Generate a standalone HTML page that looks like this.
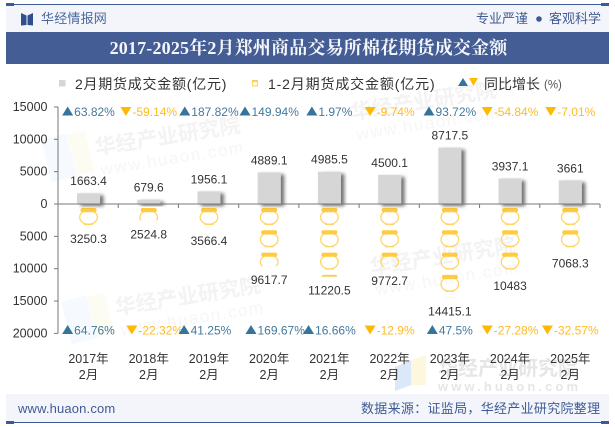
<!DOCTYPE html>
<html lang="zh">
<head>
<meta charset="utf-8">
<title>2017-2025年2月郑州商品交易所棉花期货成交金额</title>
<style>
html,body{margin:0;padding:0;background:#fff;}
#stage{position:relative;width:615px;height:427px;overflow:hidden;}
svg{position:absolute;left:0;top:0;}
.cjk{font-family:"Liberation Sans","Noto Sans CJK SC",sans-serif;}
</style>
</head>
<body>
<div id="stage">
<svg id="chart" width="615" height="427" viewBox="0 0 615 427" class="cjk">
<defs>
<filter id="barShadow" x="-40%" y="-30%" width="200%" height="180%">
<feDropShadow dx="3.5" dy="2" stdDeviation="1.8" flood-color="#000" flood-opacity="0.55"/>
</filter>
</defs>

<g>
<rect x="46" y="136" width="26" height="44" fill="#f6f9fd" transform="rotate(-14 59 158)"/>
<rect x="72" y="132" width="18" height="42" fill="#fdfcf3" transform="rotate(-14 81 153)"/>
<g transform="rotate(-9 170 135)" fill="#f3f3f3">
<text x="94" y="143" font-size="21" font-weight="700">华经产业研究院</text>
<text x="96" y="164" font-size="17" letter-spacing="1.6" fill="#f6f6f6">www.huaon.com</text>
</g>
<g transform="rotate(-9 425 100)" fill="#f3f3f3">
<text x="350" y="108" font-size="21" font-weight="700">华经产业研究院</text>
<text x="352" y="129" font-size="17" letter-spacing="1.6" fill="#f6f6f6">www.huaon.com</text>
</g>
<rect x="66" y="298" width="26" height="44" fill="#f6f9fd" transform="rotate(-14 79 320)"/>
<rect x="92" y="294" width="18" height="42" fill="#fdfcf3" transform="rotate(-14 101 315)"/>
<g transform="rotate(-9 190 295)" fill="#f3f3f3">
<text x="114" y="303" font-size="21" font-weight="700">华经产业研究院</text>
<text x="116" y="324" font-size="17" letter-spacing="1.6" fill="#f6f6f6">www.huaon.com</text>
</g>
<g transform="rotate(-9 445 255)" fill="#f3f3f3">
<text x="369" y="263" font-size="21" font-weight="700">华经产业研究院</text>
<text x="371" y="284" font-size="17" letter-spacing="1.6" fill="#f6f6f6">www.huaon.com</text>
</g>
<polygon points="395,367 411,360 411,385 395,391" fill="#dbe8f9"/>
<polygon points="411,360 426,355 426,385 411,385" fill="#fdf8dd"/>
<text x="438" y="375" font-size="20" font-weight="700" fill="#e6e6e6">华经产业研究院</text>
<text x="438" y="391" font-size="13" font-weight="700" letter-spacing="3.1" fill="#e6e6e6">www.huaon.com</text>
</g>

<g>
<rect x="6" y="5" width="603" height="27" fill="#f3f5fa"/>
<rect x="6" y="4" width="603" height="1" fill="#3c5a96"/>
<rect x="6" y="3" width="8" height="3" fill="#3c5a96"/>
<rect x="601" y="3" width="8" height="3" fill="#3c5a96"/>
<path d="M21 13 L26.5 15.5 L26.5 25 L21 25.5 Z M33 13 L27.5 15.5 L27.5 25 L33 25.5 Z" fill="#2f4f8f"/>
<text x="41" y="23" font-size="13" letter-spacing="0.2" fill="#4a679f">华经情报网</text>
<text x="476" y="23" font-size="13" fill="#3f5b94">专业严谨</text>
<circle cx="539" cy="19" r="2.8" fill="#3c5a96"/>
<text x="549" y="23" font-size="13" fill="#3f5b94">客观科学</text>
<rect x="6" y="32" width="603" height="32" fill="#445d94"/>
<text x="308.500" y="54" text-anchor="middle" font-size="18" font-weight="700" letter-spacing="0.18" fill="#f4f6fb" style="font-family:'Liberation Serif','Noto Serif CJK SC',serif">2017-2025年2月郑州商品交易所棉花期货成交金额</text>
</g>

<g>
<g>
<rect x="59" y="80" width="6.500" height="6.500" fill="#d6d6d6"/>
<text x="75" y="89" font-size="14" letter-spacing="0.75" fill="#333">2月期货成交金额(亿元)</text>
</g>
<g>
<rect x="252.500" y="81" width="5" height="5" rx="1" fill="none" stroke="#ffd566" stroke-width="1.2"/>
<rect x="252" y="80" width="6" height="2" fill="#ffcf55"/>
<text x="268" y="89" font-size="14" letter-spacing="0.85" fill="#333">1-2月期货成交金额(亿元)</text>
</g>
<g>
<polygon points="463,78 468,86 458,86" fill="#35759b"/>
<polygon points="469,78 478,78 473.500,86" fill="#ffb900"/>
<text x="484" y="89" font-size="14" fill="#333">同比增长</text>
<text x="544" y="88.500" font-size="11.500" fill="#555">(%)</text>
</g>
</g>

<g id="marks"></g>

<g>
<rect x="6" y="394" width="603" height="28" fill="#f3f5fa"/>
<rect x="6" y="422" width="603" height="1" fill="#3c5a96"/>
<rect x="6" y="421" width="8" height="3" fill="#3c5a96"/>
<rect x="601" y="421" width="8" height="3" fill="#3c5a96"/>
<text x="18" y="413" font-size="13" letter-spacing="0.15" fill="#3f5b94">www.huaon.com</text>
<text x="361" y="413" font-size="13" letter-spacing="0.3" fill="#3f5b94">数据来源：证监局，华经产业研究院整理</text>
</g>
</svg>
</div>

<script>
const categories = ['2017年', '2018年', '2019年', '2020年', '2021年', '2022年', '2023年', '2024年', '2025年'];
const monthlyValues = [1663.4, 679.6, 1956.1, 4889.1, 4985.5, 4500.1, 8717.5, 3937.1, 3661];
const cumulativeValues = [3250.3, 2524.8, 3566.4, 9617.7, 11220.5, 9772.7, 14415.1, 10483, 7068.3];
const monthlyGrowth = [63.82, -59.14, 187.82, 149.94, 1.97, -9.74, 93.72, -54.84, -7.01];
const cumulativeGrowth = [64.76, -22.32, 41.25, 169.67, 16.66, -12.9, 47.5, -27.28, -32.57];
const yTickValues = [15000, 10000, 5000, 0, 5000, 10000, 15000, 20000];
const yTickSigns = [1, 1, 1, 1, -1, -1, -1, -1];

const SVGNS = 'http://www.w3.org/2000/svg';
const root = document.getElementById('marks');
const defs = document.querySelector('#chart defs');
const plotLeft = 58, plotRight = 600, zeroY = 204, pxPerUnit = 0.00647;
const band = (plotRight - plotLeft) / categories.length;
const potPeriod = 22.3, potOffset = 4;

function xCenter(i) { return plotLeft + band * (i + 0.5) + 0.4; }
function yUp(v) { return zeroY - v * pxPerUnit; }
function yDown(v) { return zeroY + v * pxPerUnit; }
function make(tag, attrs, parent) {
  const el = document.createElementNS(SVGNS, tag);
  for (const k in attrs) el.setAttribute(k, attrs[k]);
  (parent || root).appendChild(el);
  return el;
}

/* axes */
const yAxis = make('line', {x1: plotLeft, x2: plotLeft, y1: yUp(15000), y2: yDown(20000), stroke: '#777', 'stroke-width': 1});


yTickValues.forEach(function (v, i) {
  const y = yTickSigns[i] > 0 ? yUp(v) : yDown(v);
  make('line', {x1: plotLeft - 4, x2: plotLeft, y1: y, y2: y, stroke: '#777'});
  const t = make('text', {x: 47.5, y: y + 4, 'text-anchor': 'end', 'font-size': 12.5, fill: '#333'});
  t.textContent = String(v);
  
  
});

/* cumulative pots */
categories.forEach(function (c, i) {
  const cx = xCenter(i);
  const endY = yDown(cumulativeValues[i]);
  const clip = make('clipPath', {id: 'potClip' + i}, defs);
  make('rect', {x: cx - 14, y: zeroY, width: 28, height: endY - zeroY}, clip);
  const g = make('g', {'clip-path': 'url(#potClip' + i + ')'});
  
  
  const count = Math.ceil((endY - zeroY) / potPeriod);
  for (let n = 0; n < count; n++) {
    const top = zeroY + potOffset + n * potPeriod;
    make('ellipse', {cx: cx, cy: top + 9.3, rx: 8.8, ry: 7, fill: 'none', stroke: '#ffd566', 'stroke-width': 1.3}, g);
    make('rect', {x: cx - 8, y: top, width: 16, height: 4.2, rx: 2, fill: '#ffcb3f'}, g);
    make('rect', {x: cx - 4.5, y: top + 15.8, width: 9, height: 1.2, fill: '#ffd566'}, g);
  }
});

/* monthly bars */
categories.forEach(function (c, i) {
  const cx = xCenter(i);
  const top = yUp(monthlyValues[i]);
  const bar = make('rect', {x: cx - 11.5, y: top, width: 23, height: zeroY - top, fill: '#d6d6d6', filter: 'url(#barShadow)'});
  
  
});

/* x axis */
const xAxis = make('line', {x1: plotLeft, x2: plotRight, y1: zeroY, y2: zeroY, stroke: '#777', 'stroke-width': 1});


for (let i = 0; i <= categories.length; i++) {
  const x = plotLeft + band * i;
  make('line', {x1: x, x2: x, y1: zeroY, y2: zeroY + 4, stroke: '#777'});
}

/* value labels and category labels */
categories.forEach(function (c, i) {
  const cx = xCenter(i);
  const up = make('text', {x: cx, y: yUp(monthlyValues[i]) - 8, 'text-anchor': 'middle', 'font-size': 12, fill: '#333'});
  up.textContent = String(monthlyValues[i]);
  
  
  const down = make('text', {x: cx, y: yDown(cumulativeValues[i]) + 18, 'text-anchor': 'middle', 'font-size': 12, fill: '#333'});
  down.textContent = String(cumulativeValues[i]);
  
  
  const yr = make('text', {x: cx, y: 363, 'text-anchor': 'middle', 'font-size': 12.5, fill: '#333'});
  yr.textContent = c;
  
  
  const mo = make('text', {x: cx, y: 379, 'text-anchor': 'middle', 'font-size': 12.5, fill: '#333'});
  mo.textContent = '2月';
  
  
});

/* growth rows */
const topRowNudge = [0, 0, 0, 0, 0, 0, 0, 0, 0];
const bottomRowNudge = [0, 6, -4, 6, 0, 0, 0, 0, 0];
function growthRow(values, baseY, nudges, name) {
  values.forEach(function (v, i) {
    const rising = v >= 0;
    const g = make('g', {});
    
    
    const label = make('text', {y: baseY + 4.5, 'font-size': 12, fill: rising ? '#44799c' : '#ffbb22'}, g);
    label.textContent = v + '%';
    const w = label.getComputedTextLength();
    const start = xCenter(i) - (w + 12) / 2 + nudges[i];
    label.setAttribute('x', start + 12);
    const pts = rising
      ? [[start, baseY + 4], [start + 5.5, baseY - 5], [start + 11, baseY + 4]]
      : [[start, baseY - 4.5], [start + 11, baseY - 4.5], [start + 5.5, baseY + 4.5]];
    make('polygon', {points: pts.map(function (p) { return p.join(','); }).join(' '), fill: rising ? '#35759b' : '#ffb900'}, g);
  });
}
growthRow(monthlyGrowth, 111.5, topRowNudge, 'monthly-growth-label');
growthRow(cumulativeGrowth, 330, bottomRowNudge, 'cumulative-growth-label');
</script>
</body>
</html>
